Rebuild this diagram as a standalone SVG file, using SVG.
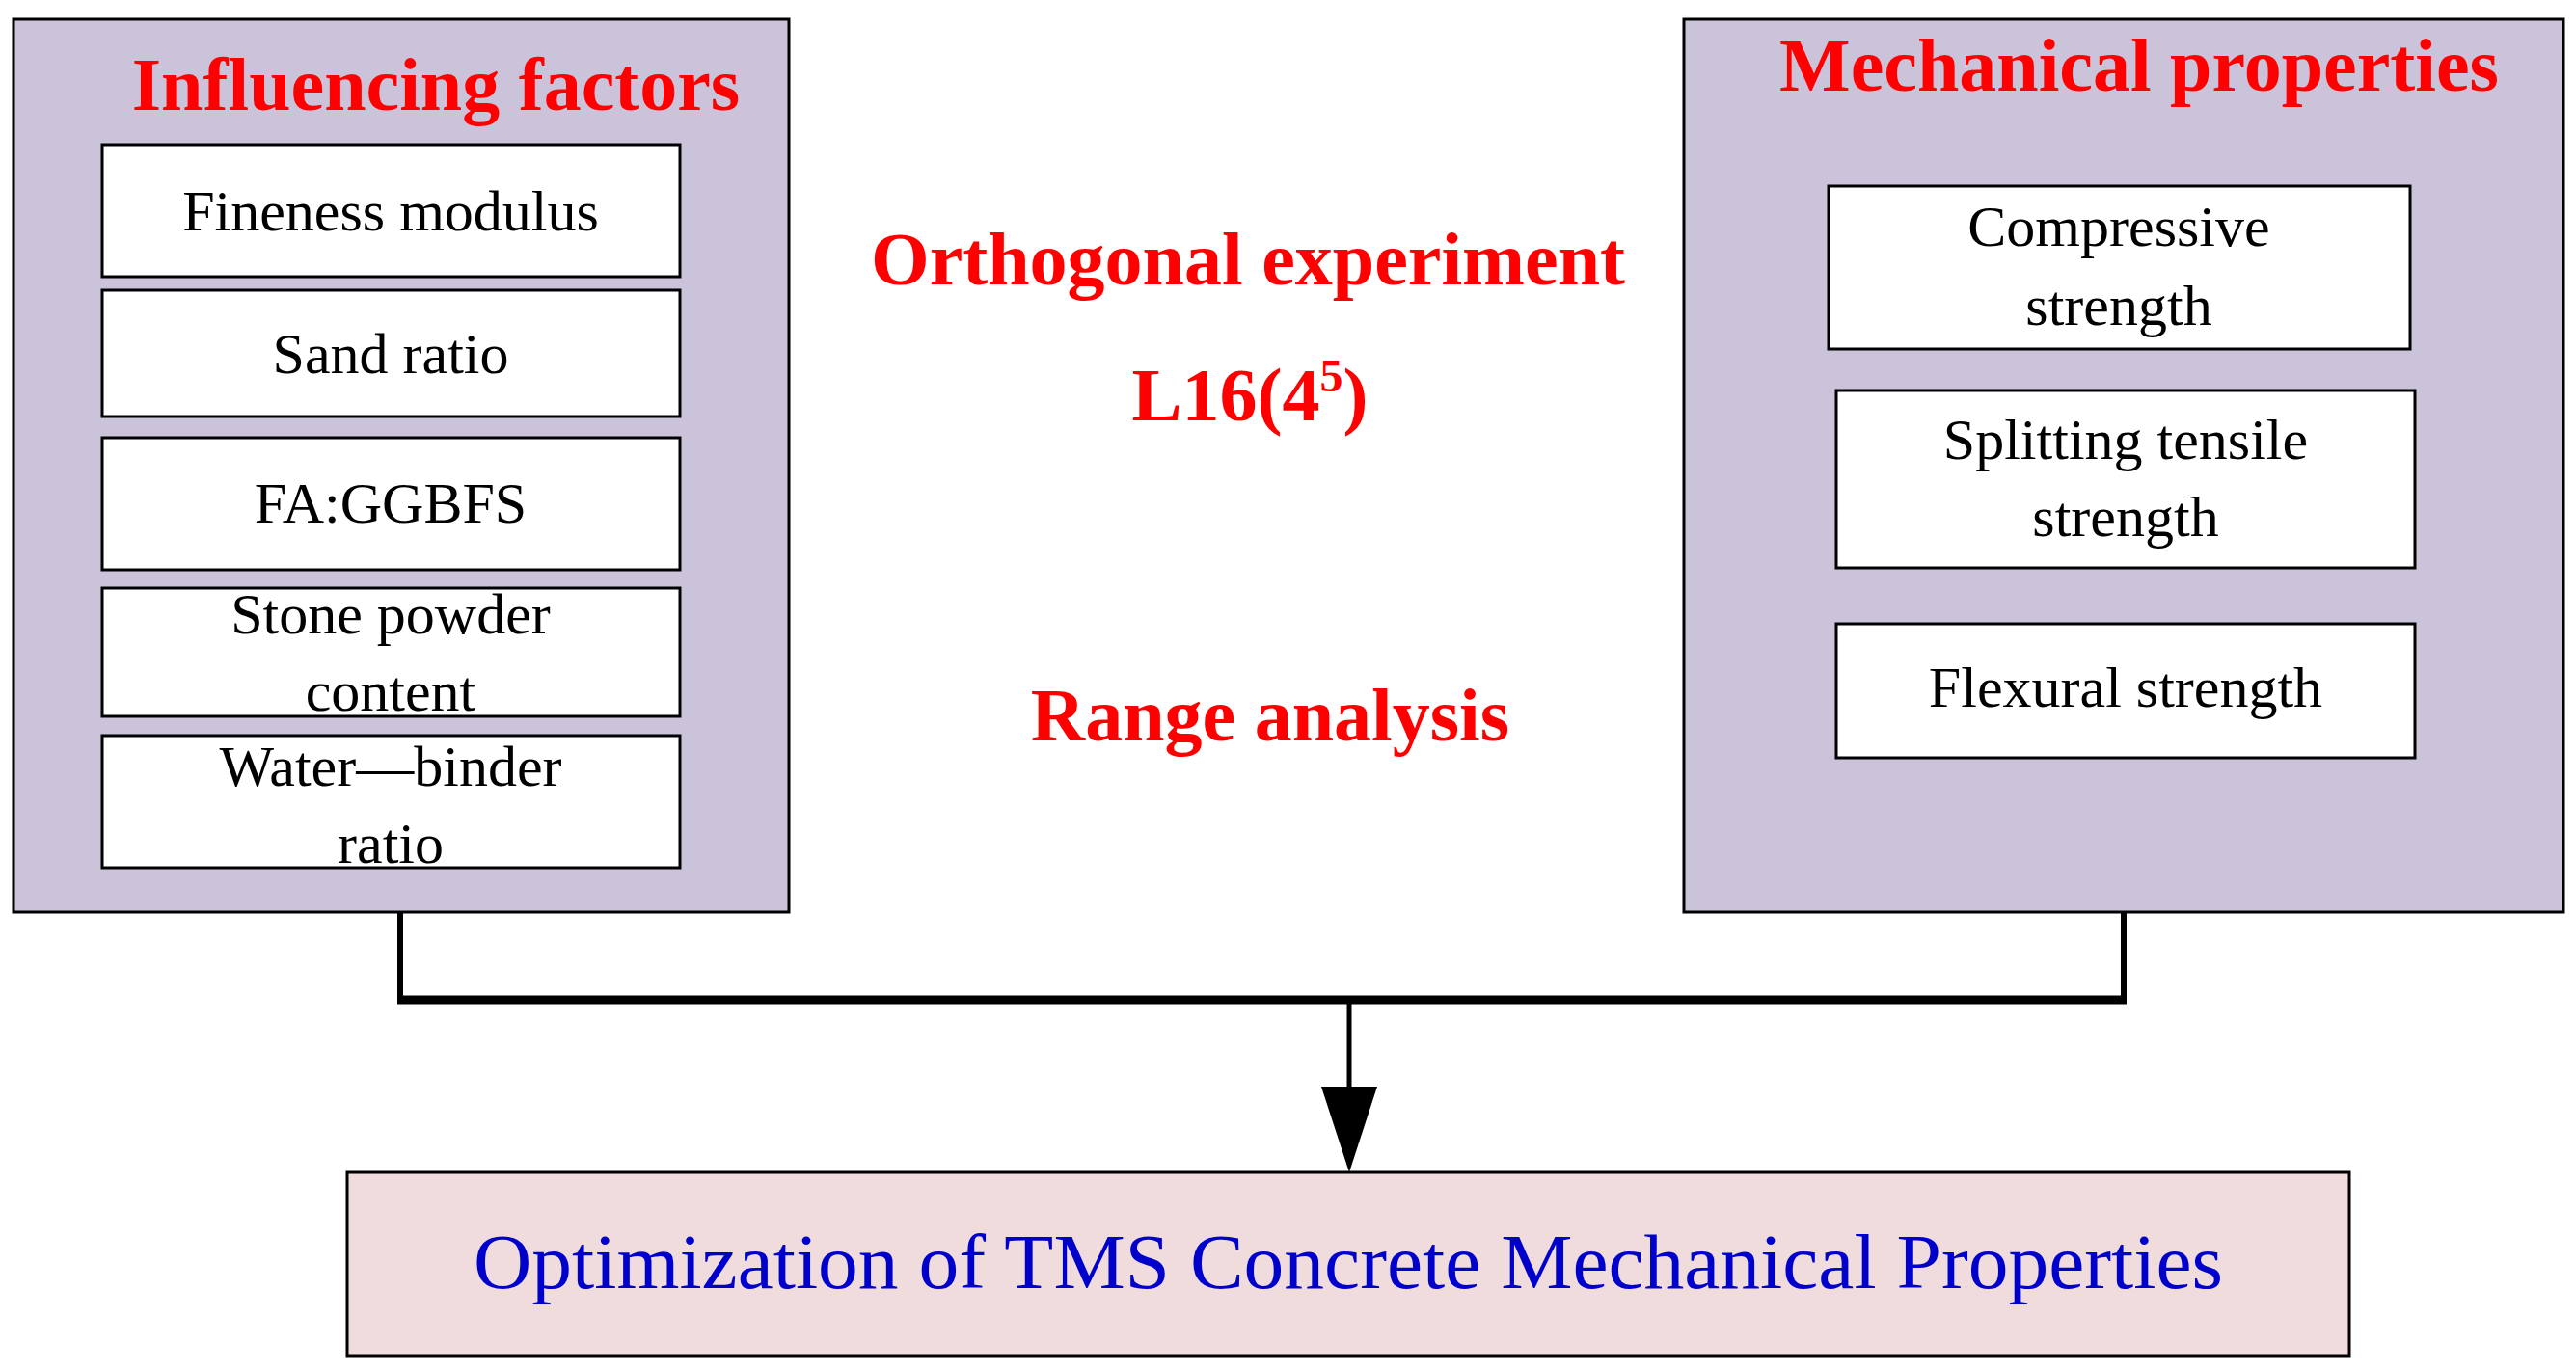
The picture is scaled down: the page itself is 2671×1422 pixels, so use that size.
<svg xmlns="http://www.w3.org/2000/svg" width="2671" height="1422" viewBox="0 0 2671 1422">
<style>
.panel{fill:#cbc3da;stroke:#000;stroke-width:3}
.box{fill:#fff;stroke:#000;stroke-width:3}
.t{font-family:"Liberation Serif",serif;font-size:60px;fill:#000;text-anchor:middle}
.h{font-family:"Liberation Serif",serif;font-size:78px;font-weight:bold;fill:#f00;text-anchor:middle}
.c{fill:none;stroke:#000;stroke-width:6}
</style>
<rect width="2671" height="1422" fill="#fff"/>
<g id="influencing">
<rect class="panel" x="14" y="20" width="804" height="926"/>
<text class="h" x="452" y="114">Influencing factors</text>
</g>
<g id="fineness"><rect class="box" x="106" y="150" width="599" height="137"/><text class="t" x="405" y="239">Fineness modulus</text></g>
<g id="sand"><rect class="box" x="106" y="301" width="599" height="131"/><text class="t" x="405" y="387">Sand ratio</text></g>
<g id="fa"><rect class="box" x="106" y="454" width="599" height="137"/><text class="t" x="405" y="542">FA:GGBFS</text></g>
<g id="stone"><rect class="box" x="106" y="610" width="599" height="133"/><text class="t" x="405" y="657">Stone powder</text><text class="t" x="405" y="737">content</text></g>
<g id="water"><rect class="box" x="106" y="763" width="599" height="137"/><text class="t" x="405" y="815">Water—binder</text><text class="t" x="405" y="895">ratio</text></g>
<g id="mechanical">
<rect class="panel" x="1746" y="20" width="912" height="926"/>
<text class="h" x="2218" y="94">Mechanical properties</text>
</g>
<g id="compressive"><rect class="box" x="1896" y="193" width="603" height="169"/><text class="t" x="2197" y="255">Compressive</text><text class="t" x="2197" y="337">strength</text></g>
<g id="splitting"><rect class="box" x="1904" y="405" width="600" height="184"/><text class="t" x="2204" y="476">Splitting tensile</text><text class="t" x="2204" y="556">strength</text></g>
<g id="flexural"><rect class="box" x="1904" y="647" width="600" height="139"/><text class="t" x="2204" y="733">Flexural strength</text></g>
<g id="center-labels">
<text class="h" x="1294" y="295">Orthogonal experiment</text>
<text class="h" x="1296" y="436">L16(4<tspan dy="-30" font-size="48">5</tspan><tspan dy="30">)</tspan></text>
<text class="h" x="1317" y="768">Range analysis</text>
</g>
<g id="connectors">
<path class="c" d="M415 946 V1037 M2202 946 V1037"/>
<path d="M412 1037 H2205" stroke="#000" stroke-width="9" fill="none"/>
<path d="M1399 1037 V1130" stroke="#000" stroke-width="5" fill="none"/>
<polygon points="1370,1127 1428,1127 1399,1216" fill="#000"/>
</g>
<g id="optimization">
<rect x="360" y="1216" width="2076" height="190" fill="#f0dcdc" stroke="#000" stroke-width="3"/>
<text x="1398" y="1336" font-family="Liberation Serif,serif" font-size="80" fill="#0000cc" text-anchor="middle" textLength="1814" lengthAdjust="spacingAndGlyphs">Optimization of TMS Concrete Mechanical Properties</text>
</g>
</svg>
